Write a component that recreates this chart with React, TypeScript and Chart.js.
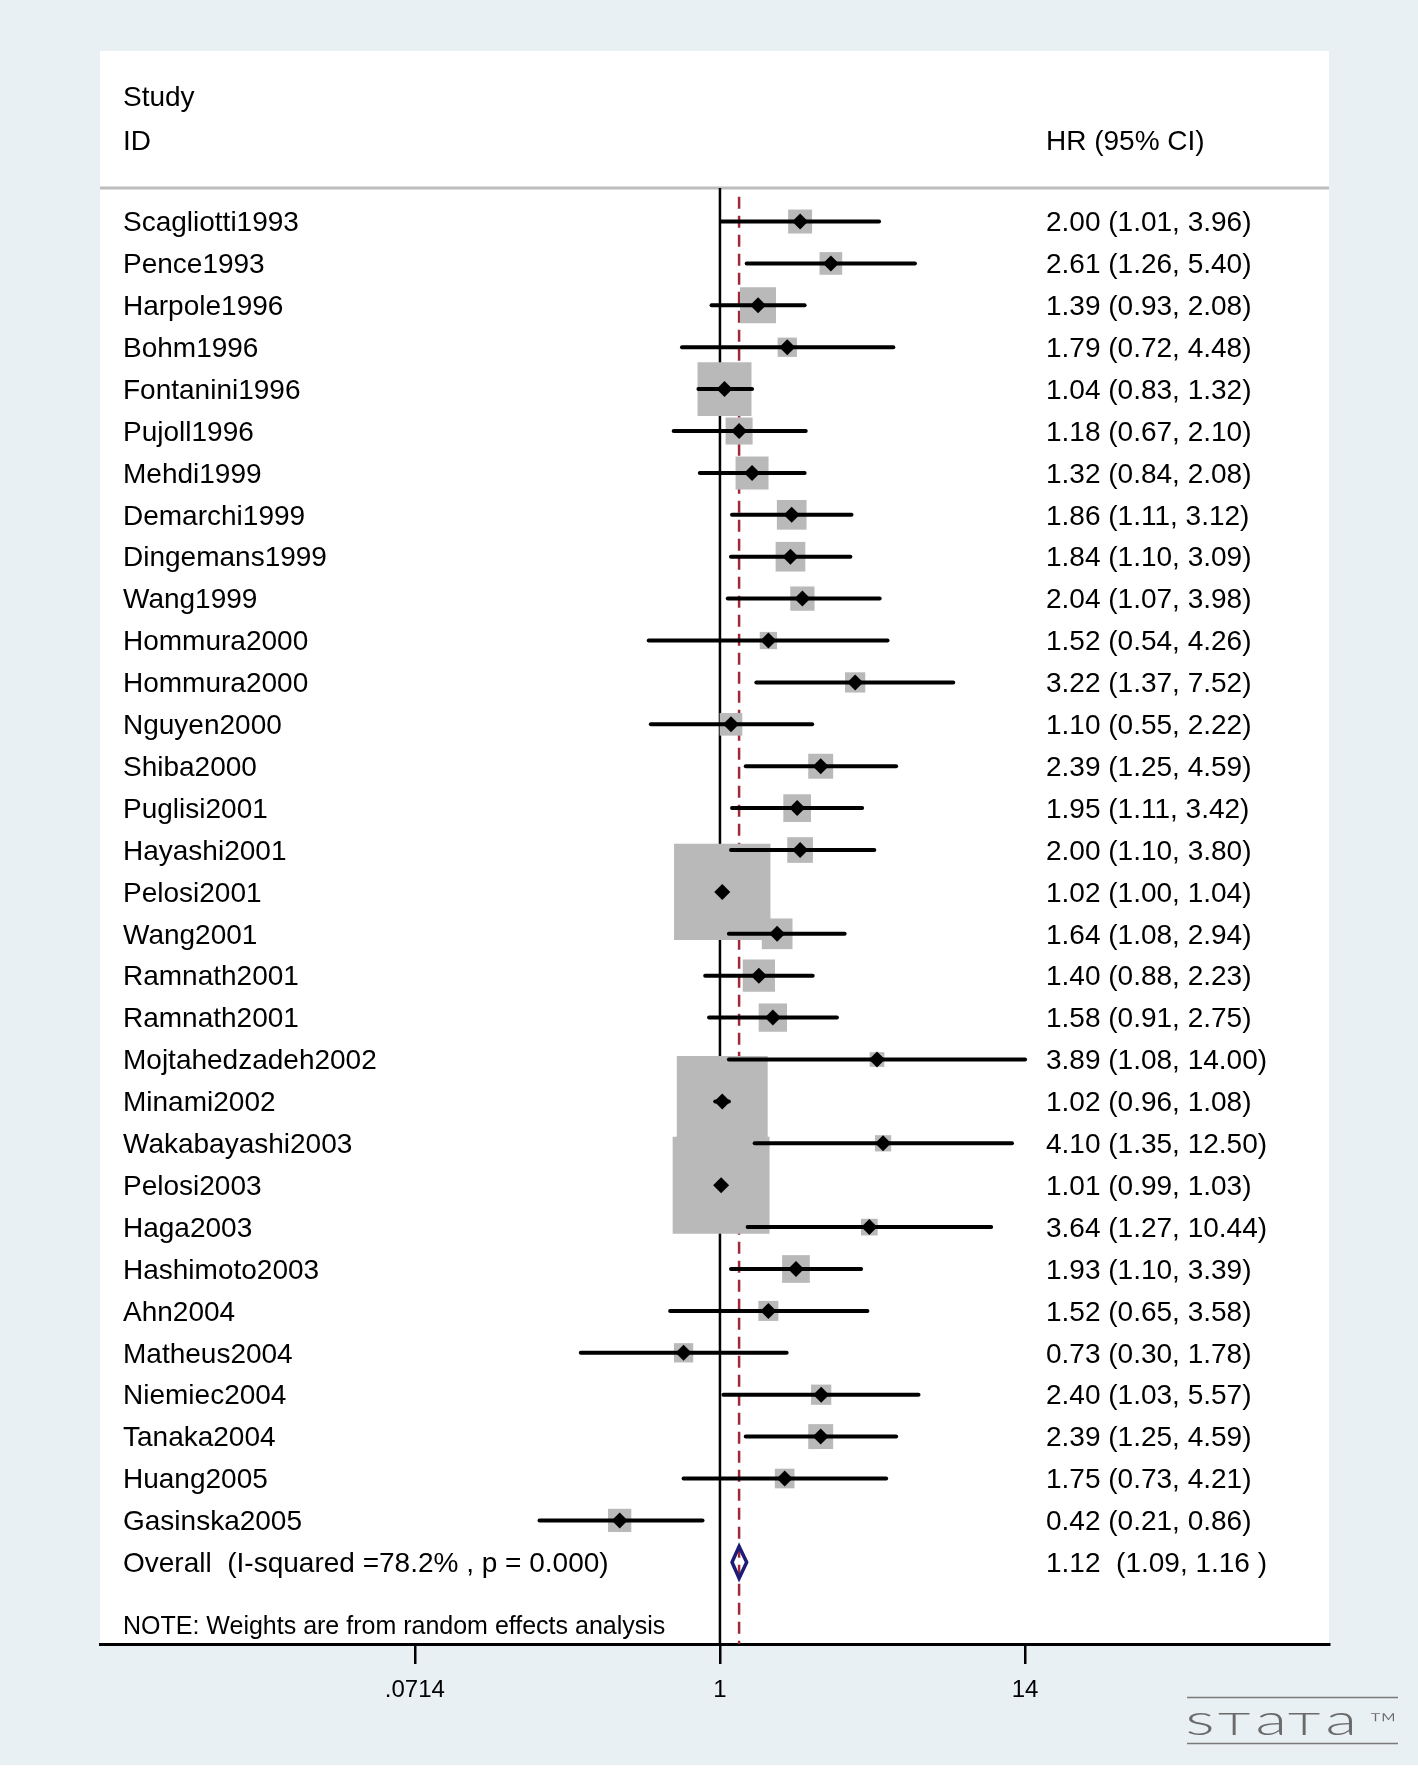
import React, { useEffect, useRef } from 'react';
import { Chart, registerables } from 'chart.js';

Chart.register(...registerables);

// ---------------- data ----------------
const studies = [
  'Scagliotti1993', 'Pence1993', 'Harpole1996', 'Bohm1996', 'Fontanini1996', 'Pujoll1996',
  'Mehdi1999', 'Demarchi1999', 'Dingemans1999', 'Wang1999', 'Hommura2000', 'Hommura2000',
  'Nguyen2000', 'Shiba2000', 'Puglisi2001', 'Hayashi2001', 'Pelosi2001', 'Wang2001',
  'Ramnath2001', 'Ramnath2001', 'Mojtahedzadeh2002', 'Minami2002', 'Wakabayashi2003',
  'Pelosi2003', 'Haga2003', 'Hashimoto2003', 'Ahn2004', 'Matheus2004', 'Niemiec2004',
  'Tanaka2004', 'Huang2005', 'Gasinska2005',
];
const hr = [
  2.00, 2.61, 1.39, 1.79, 1.04, 1.18, 1.32, 1.86, 1.84, 2.04, 1.52, 3.22, 1.10, 2.39, 1.95, 2.00,
  1.02, 1.64, 1.40, 1.58, 3.89, 1.02, 4.10, 1.01, 3.64, 1.93, 1.52, 0.73, 2.40, 2.39, 1.75, 0.42,
];
const ciLow = [
  1.01, 1.26, 0.93, 0.72, 0.83, 0.67, 0.84, 1.11, 1.10, 1.07, 0.54, 1.37, 0.55, 1.25, 1.11, 1.10,
  1.00, 1.08, 0.88, 0.91, 1.08, 0.96, 1.35, 0.99, 1.27, 1.10, 0.65, 0.30, 1.03, 1.25, 0.73, 0.21,
];
const ciHigh = [
  3.96, 5.40, 2.08, 4.48, 1.32, 2.10, 2.08, 3.12, 3.09, 3.98, 4.26, 7.52, 2.22, 4.59, 3.42, 3.80,
  1.04, 2.94, 2.23, 2.75, 14.00, 1.08, 12.50, 1.03, 10.44, 3.39, 3.58, 1.78, 5.57, 4.59, 4.21, 0.86,
];
// study weights (%)
const weights = [
  1.22, 1.09, 2.75, 0.79, 6.18, 1.55, 2.31, 1.87, 1.87, 1.25, 0.63, 0.87, 1.09, 1.32, 1.63, 1.40,
  19.74, 2.00, 2.21, 1.70, 0.46, 17.55, 0.56, 19.94, 0.59, 1.63, 0.85, 0.79, 0.87, 1.32, 0.82, 1.15,
];
const overallLabel = 'Overall  (I-squared =78.2% , p = 0.000)';
const overallText = '1.12  (1.09, 1.16 )';
// pooled estimate as drawn in the picture: [low, estimate, high]
const overallDrawn = [1.11, 1.18, 1.26];
const nullValue = 1;
const xTickValues = [0.0714, 1, 14];
const xTickLabels = ['.0714', '1', '14'];
const headerLeft = ['Study', 'ID'];
const headerRight = 'HR (95% CI)';
const noteText = 'NOTE: Weights are from random effects analysis';
const logoChars = ['s', 'T', 'a', 'T', 'a'];
const logoTM = '™';

// ---------------- layout / style ----------------
const W = 1418;
const H = 1772;
const PANEL_L = 100;
const PANEL_R = 1329;
const PANEL_T = 51;
const AXIS_H = 128;
const X_MIN = 0.00469;
const X_MAX = 194;
const Y_MIN = -4.07;
const Y_MAX = 33.95;
const ROW_STUDY = -3.0;
const ROW_ID = -1.94;
const ROW_HEADER_LINE = -0.8;
const ROW_DASH_TOP = -0.59;
const ROW_NOTE = 33.5;
const DIAMOND_HALF = 0.38;
const BOX_PX_PER_SQRT_W = 21.7;
const FONT = "'Liberation Sans', Arial, Helvetica, sans-serif";
const BG = '#e9f0f3';
const TEXT_L = 123;
const TEXT_R = 1046;
const TEXT_DY = 2;

const forestPlugin = {
  id: 'forestDecor',
  beforeDraw(chart: any) {
    const { ctx, chartArea } = chart;
    ctx.save();
    ctx.fillStyle = '#ffffff';
    ctx.fillRect(0, 0, W, H);
    ctx.fillStyle = BG;
    ctx.fillRect(0, 0, W, 1765);
    ctx.fillStyle = '#ffffff';
    ctx.fillRect(chartArea.left, chartArea.top, chartArea.right - chartArea.left, chartArea.bottom - chartArea.top);
    ctx.restore();
  },
  beforeDatasetsDraw(chart: any) {
    const { ctx, chartArea } = chart;
    const y = chart.scales.y.getPixelForValue(ROW_HEADER_LINE);
    ctx.save();
    ctx.strokeStyle = '#bdbdbd';
    ctx.lineWidth = 3;
    ctx.beginPath();
    ctx.moveTo(chartArea.left, y);
    ctx.lineTo(chartArea.right, y);
    ctx.stroke();
    ctx.restore();
  },
  afterDatasetsDraw(chart: any) {
    const { ctx } = chart;
    const ys = chart.scales.y;
    const py = (r: number) => ys.getPixelForValue(r) + TEXT_DY;
    ctx.save();
    ctx.fillStyle = '#000';
    ctx.textBaseline = 'middle';
    ctx.textAlign = 'left';
    ctx.font = `28px ${FONT}`;
    ctx.fillText(headerLeft[0], TEXT_L, py(ROW_STUDY));
    ctx.fillText(headerLeft[1], TEXT_L, py(ROW_ID));
    ctx.fillText(headerRight, TEXT_R, py(ROW_ID));
    studies.forEach((name, i) => {
      const y = py(i);
      ctx.fillText(name, TEXT_L, y);
      ctx.fillText(`${hr[i].toFixed(2)} (${ciLow[i].toFixed(2)}, ${ciHigh[i].toFixed(2)})`, TEXT_R, y);
    });
    const yo = py(studies.length);
    ctx.fillText(overallLabel, TEXT_L, yo);
    ctx.fillText(overallText, TEXT_R, yo);
    ctx.font = `25px ${FONT}`;
    ctx.fillText(noteText, TEXT_L, py(ROW_NOTE));
    ctx.restore();
  },
  afterDraw(chart: any) {
    const { ctx } = chart;
    ctx.save();
    ctx.strokeStyle = '#7a7a7a';
    ctx.lineWidth = 1.5;
    ctx.beginPath();
    ctx.moveTo(1187, 1697.5);
    ctx.lineTo(1398, 1697.5);
    ctx.moveTo(1187, 1743.5);
    ctx.lineTo(1398, 1743.5);
    ctx.stroke();
    ctx.fillStyle = '#6a6a6a';
    ctx.textBaseline = 'alphabetic';
    ctx.textAlign = 'left';
    const boxes = [[1187, 1213], [1218, 1250], [1257, 1283], [1288, 1320], [1327, 1353]];
    const fit = (ch: string, x0: number, x1: number, y0: number, y1: number, weight: number) => {
      ctx.font = `${weight} 40px Lato, 'DejaVu Sans', sans-serif`;
      const m = ctx.measureText(ch);
      const bw = m.actualBoundingBoxLeft + m.actualBoundingBoxRight;
      const bh = m.actualBoundingBoxAscent + m.actualBoundingBoxDescent;
      const sx = (x1 - x0) / bw;
      const sy = (y1 - y0) / bh;
      ctx.save();
      ctx.translate(x0 + m.actualBoundingBoxLeft * sx, y0 + m.actualBoundingBoxAscent * sy);
      ctx.scale(sx, sy);
      ctx.fillText(ch, 0, 0);
      ctx.restore();
    };
    logoChars.forEach((ch, i) => fit(ch, boxes[i][0], boxes[i][1], 1713, 1735, 300));
    fit(logoTM, 1370, 1395, 1713, 1722, 300);
    ctx.restore();
  },
};

export default function App() {
  const ref = useRef<HTMLCanvasElement>(null);

  useEffect(() => {
    const canvas = ref.current;
    if (!canvas) return;
    const overallRow = studies.length;
    const [oLo, oEst, oHi] = overallDrawn;

    const datasets: any[] = [];
    datasets.push({
      data: [{ x: nullValue, y: ROW_HEADER_LINE }, { x: nullValue, y: Y_MAX }],
      showLine: true, borderColor: '#000', borderWidth: 2.5, pointRadius: 0, order: 6,
    });
    datasets.push({
      data: [{ x: oEst, y: ROW_DASH_TOP }, { x: oEst, y: Y_MAX }],
      showLine: true, borderColor: '#a1283a', borderWidth: 2.5, borderDash: [12, 7], pointRadius: 0, order: 5,
    });
    datasets.push({
      data: hr.map((v, i) => ({ x: v, y: i })),
      showLine: false,
      pointStyle: 'rect',
      pointRadius: weights.map((w) => (BOX_PX_PER_SQRT_W * Math.sqrt(w)) / Math.SQRT2),
      pointBackgroundColor: '#b9b9b9',
      pointBorderWidth: 0,
      order: 4,
    });
    studies.forEach((_, i) => {
      datasets.push({
        data: [{ x: ciLow[i], y: i }, { x: ciHigh[i], y: i }],
        showLine: true, borderColor: '#000', borderWidth: 4, borderCapStyle: 'round',
        pointRadius: 0, order: 3,
      });
    });
    datasets.push({
      data: hr.map((v, i) => ({ x: v, y: i })),
      showLine: false,
      pointStyle: 'rectRot',
      pointRadius: 8,
      pointBackgroundColor: '#000',
      pointBorderWidth: 0,
      order: 2,
    });
    datasets.push({
      data: [
        { x: oLo, y: overallRow },
        { x: oEst, y: overallRow - DIAMOND_HALF },
        { x: oHi, y: overallRow },
        { x: oEst, y: overallRow + DIAMOND_HALF },
        { x: oLo, y: overallRow },
        { x: oEst, y: overallRow - DIAMOND_HALF },
      ],
      showLine: true, borderColor: '#1c1c78', borderWidth: 3.5, borderJoinStyle: 'miter',
      pointRadius: 0, fill: false, tension: 0, order: 1,
    });

    const chart = new Chart(canvas, {
      type: 'scatter',
      data: { datasets },
      plugins: [forestPlugin],
      options: {
        animation: false,
        responsive: false,
        events: [],
        layout: {
          autoPadding: false,
          padding: { left: PANEL_L, right: W - PANEL_R, top: PANEL_T, bottom: 0 },
        },
        plugins: { legend: { display: false }, tooltip: { enabled: false } },
        scales: {
          x: {
            type: 'logarithmic',
            position: 'bottom',
            min: X_MIN,
            max: X_MAX,
            bounds: 'data',
            afterBuildTicks: (scale: any) => {
              scale.ticks = xTickValues.map((v) => ({ value: v }));
            },
            afterFit: (scale: any) => {
              scale.height = AXIS_H;
            },
            grid: {
              display: true,
              drawOnChartArea: false,
              drawTicks: true,
              tickLength: 20,
              color: '#000',
              lineWidth: 2.5,
            },
            border: { display: true, color: '#000', width: 3 },
            ticks: {
              autoSkip: false,
              maxRotation: 0,
              padding: 12,
              color: '#000',
              font: { family: FONT, size: 24 },
              callback: (_v: any, i: number) => xTickLabels[i],
            },
          },
          y: {
            type: 'linear',
            display: false,
            reverse: true,
            min: Y_MIN,
            max: Y_MAX,
            bounds: 'data',
          },
        },
      } as any,
    });
    return () => chart.destroy();
  }, []);

  return (
    <div style={{ position: 'absolute', left: 0, top: 0, width: W, height: H }}>
      <canvas ref={ref} width={W} height={H} style={{ display: 'block', width: W, height: H }} />
    </div>
  );
}
